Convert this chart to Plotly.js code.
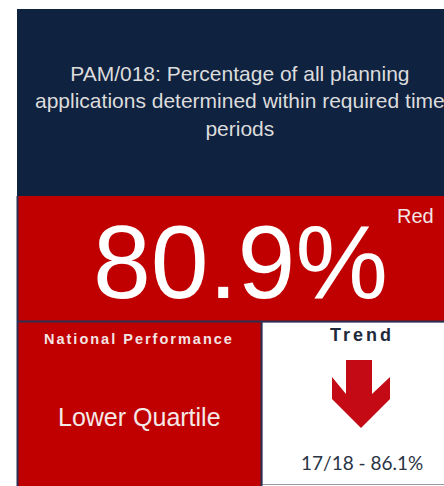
<!DOCTYPE html>
<html>
<head>
<meta charset="utf-8">
<script src="https://cdn.plot.ly/plotly-3.0.1.min.js"></script>
<style>html,body{margin:0;padding:0;background:#fff;}#chart{width:444px;height:486px;}</style>
</head>
<body>
<div id="chart"></div>
<script>
// Tile data
const measureTitle = ["PAM/018: Percentage of all planning", "applications determined within required time", "periods"];
const currentValue = [80.9];
const valueSuffix = ["%"];
const ragStatus = ["Red"];
const nationalLabel = ["National Performance"];
const nationalQuartile = ["Lower Quartile"];
const trendLabel = ["Trend"];
const previousYear = ["17/18"];
const previousValue = [86.1];
const trendDirection = ["down"];

const NAVY = "#0f2240", RED = "#c00000", EDGE = "#2c2f52";

const shapes = [
  {type:"rect", xref:"x", yref:"y", x0:17, x1:450, y0:9, y1:196, fillcolor:NAVY, line:{width:0}, layer:"below"},
  {type:"rect", xref:"x", yref:"y", x0:17, x1:450, y0:196, y1:321, fillcolor:RED, line:{width:0}, layer:"below"},
  {type:"rect", xref:"x", yref:"y", x0:17, x1:261, y0:322, y1:490, fillcolor:RED, line:{width:0}, layer:"below"},
  {type:"rect", xref:"x", yref:"y", x0:262, x1:450, y0:322, y1:484.5, fillcolor:"#ffffff", line:{color:"#9a9aa6", width:1}, layer:"below"},
  {type:"line", xref:"x", yref:"y", x0:17.5, x1:17.5, y0:196, y1:490, line:{color:EDGE, width:2}},
  {type:"line", xref:"x", yref:"y", x0:17, x1:450, y0:321.5, y1:321.5, line:{color:EDGE, width:2}},
  {type:"line", xref:"x", yref:"y", x0:261.5, x1:261.5, y0:322, y1:490, line:{color:EDGE, width:2}}
];

// trend arrow (down)
if (trendDirection[0] === "down") {
  shapes.push({type:"path", xref:"x", yref:"y",
    path:"M346,360 L372,360 L372,394 L390,377 L390,399 L361,428 L332,399 L332,377 L346,394 Z",
    fillcolor:"#c40a14", line:{width:0}});
}

const annotations = [
  {x:240, y:101, xref:"x", yref:"y", text:measureTitle.join("<br>"), showarrow:false,
   font:{family:"Liberation Sans, Arial", size:21, color:"#dcdcdc"}, align:"center", xanchor:"center", yanchor:"middle"},
  {x:240, y:262, xref:"x", yref:"y", text:currentValue[0].toFixed(1) + valueSuffix[0], showarrow:false,
   font:{family:"Liberation Sans, Arial", size:104, color:"#ffffff"}, xanchor:"center", yanchor:"middle"},
  {x:415, y:216, xref:"x", yref:"y", text:ragStatus[0], showarrow:false,
   font:{family:"Liberation Sans, Arial", size:20, color:"#f2e6e6"}, xanchor:"center", yanchor:"middle"},
  {x:139, y:339, xref:"x", yref:"y", text:'<span style="letter-spacing:2px"><b>' + nationalLabel[0] + "</b></span>", showarrow:false,
   font:{family:"Liberation Sans, Arial", size:14.5, color:"#f4e4e4"}, xanchor:"center", yanchor:"middle"},
  {x:139, y:417, xref:"x", yref:"y", text:nationalQuartile[0], showarrow:false,
   font:{family:"Liberation Sans, Arial", size:25, color:"#f4e8e8"}, xanchor:"center", yanchor:"middle"},
  {x:362, y:335, xref:"x", yref:"y", text:'<span style="letter-spacing:3px"><b>' + trendLabel[0] + "</b></span>", showarrow:false,
   font:{family:"Liberation Sans, Arial", size:18, color:"#1e2a3c"}, xanchor:"center", yanchor:"middle"},
  {x:362, y:462, xref:"x", yref:"y", text:previousYear[0] + " - " + previousValue[0].toFixed(1) + "%", showarrow:false,
   font:{family:"Lato, Liberation Sans", size:19, color:"#2a3444"}, xanchor:"center", yanchor:"middle"}
];

const layout = {
  width:444, height:486,
  margin:{l:0, r:0, t:0, b:0},
  paper_bgcolor:"#ffffff", plot_bgcolor:"#ffffff",
  xaxis:{range:[0,444], visible:false, fixedrange:true},
  yaxis:{range:[486,0], visible:false, fixedrange:true},
  showlegend:false,
  shapes:shapes,
  annotations:annotations
};

Plotly.newPlot("chart", [{x:[], y:[], type:"scatter", mode:"markers", hoverinfo:"skip"}], layout, {displayModeBar:false, staticPlot:true});
</script>
</body>
</html>
